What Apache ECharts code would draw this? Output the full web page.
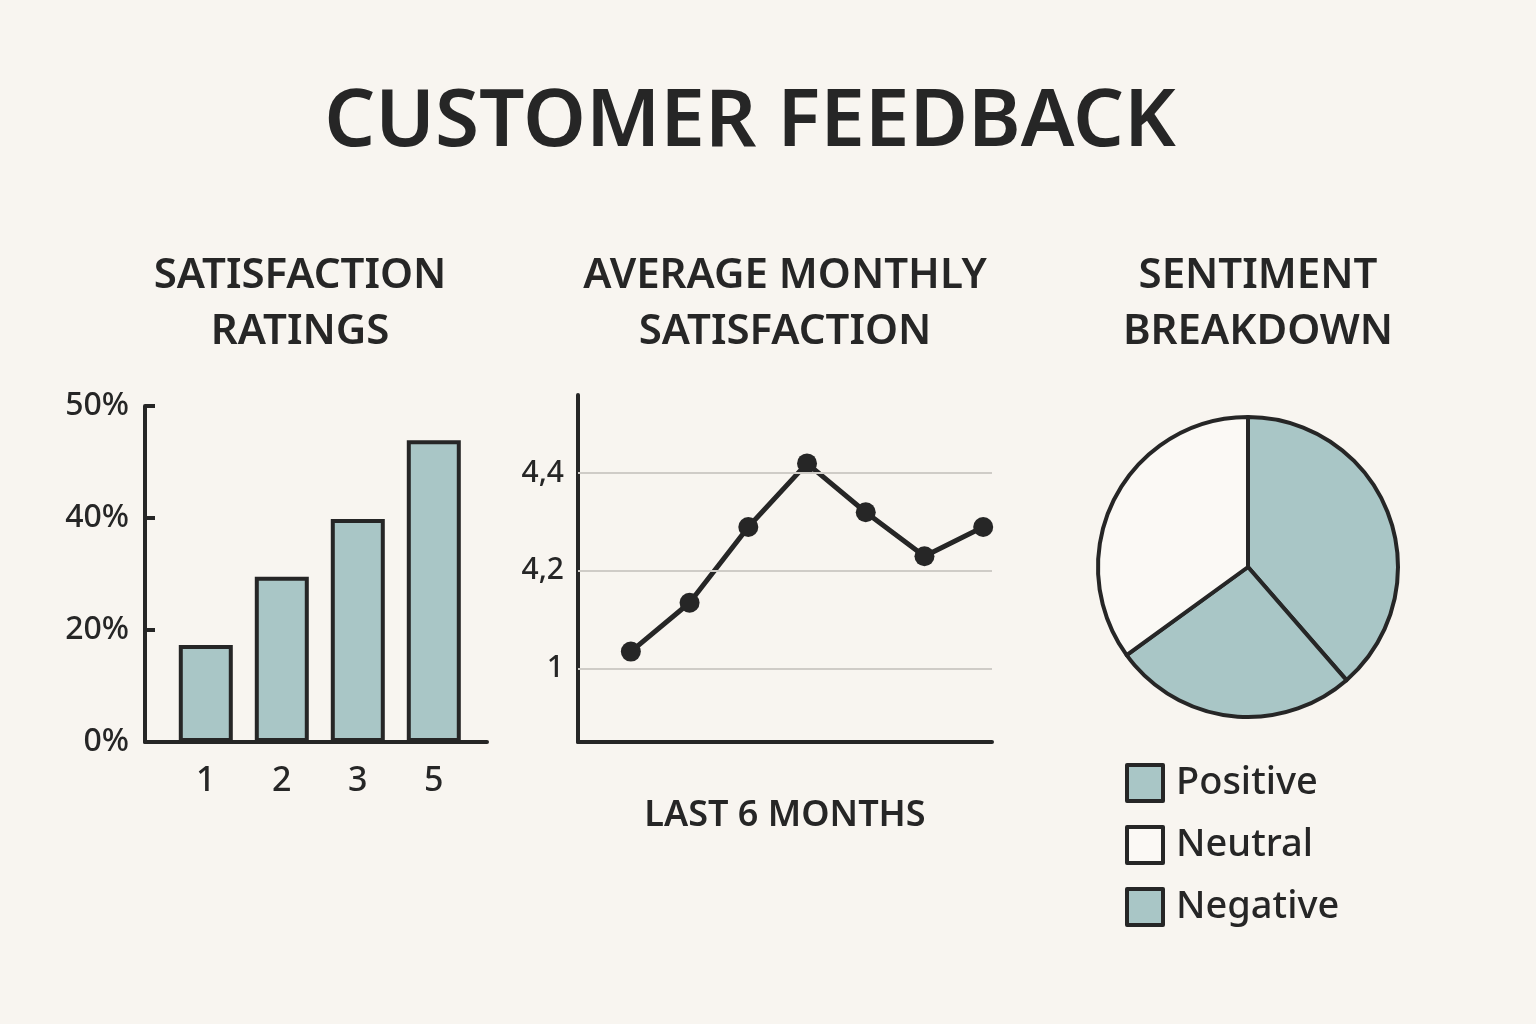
<!DOCTYPE html>
<html><head><meta charset="utf-8">
<script src="https://cdn.jsdelivr.net/npm/echarts@6/dist/echarts.min.js"></script>
<style>html,body{margin:0;background:#f8f5f0}#c{width:1536px;height:1024px}</style>
</head><body><div id="c"></div>
<script>
// bar: satisfaction ratings
const ratingCats = ['1', '2', '3', '5'];
const ratingVals = [17.3, 29.5, 39.8, 53.9];
const ratingTicks = {0: '0%', 20: '20%', 40: '40%', 60: '50%'};
// line: monthly average
const monthIdx = [0, 1, 2, 3, 4, 5, 6];
const monthVals = [4.035, 4.135, 4.29, 4.42, 4.32, 4.23, 4.29];
const lineGrid = [4, 4.2, 4.4];
const lineTicks = {'4': '1', '4.2': '4,2', '4.4': '4,4'};
// pie
const sentNames = ['Positive', 'Negative', 'Neutral'];
const sentVals = [38.6, 26.4, 35];
const legendOrder = ['Positive', 'Neutral', 'Negative'];

const ink = '#262626', teal = '#a9c6c6', paper = '#f8f5f0';
const font = 'Noto Sans';
const chart = echarts.init(document.getElementById('c'));
const titleStyle = {fontFamily: font, fontSize: 42, fontWeight: 600, color: ink, align: 'center', lineHeight: 56};
chart.setOption({
  backgroundColor: paper,
  animation: false,
  title: [
    {text: 'CUSTOMER FEEDBACK', left: 745, top: 78, textAlign: 'center',
     textStyle: {fontFamily: font, fontSize: 80, fontWeight: 600, color: ink}},
    {text: 'SATISFACTION\nRATINGS', left: 295, top: 243, textAlign: 'center', textStyle: titleStyle},
    {text: 'AVERAGE MONTHLY\nSATISFACTION', left: 780, top: 243, textAlign: 'center', textStyle: titleStyle},
    {text: 'SENTIMENT\nBREAKDOWN', left: 1253, top: 243, textAlign: 'center', textStyle: titleStyle},
    {text: 'LAST 6 MONTHS', left: 780, top: 793, textAlign: 'center',
     textStyle: {fontFamily: font, fontSize: 36, fontWeight: 600, color: ink}}
  ],
  grid: [
    {left: 145, top: 406, width: 342, height: 336},
    {left: 578, top: 395, width: 414, height: 347}
  ],
  xAxis: [
    {gridIndex: 0, type: 'value', min: -0.8, max: 3.7,
     axisLine: {show: true, lineStyle: {color: ink, width: 4}}, axisTick: {show: false},
     splitLine: {show: false},
     axisLabel: {customValues: [0, 1, 2, 3], fontFamily: font, fontSize: 34, fontWeight: 500, color: ink, margin: 22,
       formatter: v => ratingCats[Math.round(v)]}},
    {gridIndex: 1, type: 'value', min: -0.9, max: 6.15,
     axisLine: {show: true, onZero: false, lineStyle: {color: ink, width: 4}}, axisTick: {show: false},
     axisLabel: {show: false}, splitLine: {show: false}}
  ],
  yAxis: [
    {gridIndex: 0, type: 'value', min: 0, max: 60, interval: 20,
     axisLine: {show: true, onZero: false, lineStyle: {color: ink, width: 4}},
     axisTick: {show: true, length: 10, inside: true, lineStyle: {color: ink, width: 4}},
     splitLine: {show: false},
     axisLabel: {fontFamily: font, fontSize: 32, fontWeight: 500, color: ink, margin: 16, formatter: v => ratingTicks[v] || ''}},
    {gridIndex: 1, type: 'value', min: 3.85, max: 4.56,
     axisLine: {show: true, onZero: false, lineStyle: {color: ink, width: 4}},
     axisTick: {show: false},
     splitLine: {show: false},
     axisLabel: {customValues: lineGrid, fontFamily: font, fontSize: 30, fontWeight: 500, color: ink, margin: 14,
       formatter: v => lineTicks[String(Math.round(v * 10) / 10)] || ''}}
  ],
  series: [
    {type: 'bar', xAxisIndex: 0, yAxisIndex: 0, data: ratingVals.map((v, i) => [i, v]), barWidth: 54,
     itemStyle: {color: teal, borderColor: ink, borderWidth: 4}},
    {type: 'line', xAxisIndex: 1, yAxisIndex: 1, data: monthIdx.map((m, i) => [m, monthVals[i]]),
     symbol: 'circle', symbolSize: 20, lineStyle: {color: ink, width: 5},
     itemStyle: {color: ink}, z: 3,
     markLine: {silent: true, symbol: 'none', label: {show: false},
       lineStyle: {color: '#cfccc7', width: 2, type: 'solid'},
       data: lineGrid.map(v => ({yAxis: v}))}},
    {type: 'pie', center: [1248, 567], radius: 150, startAngle: 90, clockwise: true,
     label: {show: false}, labelLine: {show: false},
     data: sentNames.map((n, i) => ({name: n, value: sentVals[i],
       itemStyle: {color: n === 'Neutral' ? '#fbf9f5' : teal}})),
     itemStyle: {borderColor: ink, borderWidth: 4}}
  ],
  legend: {orient: 'vertical', left: 1120, top: 758, itemGap: 22, itemWidth: 36, itemHeight: 36,
    data: legendOrder, icon: 'rect',
    itemStyle: {borderColor: ink, borderWidth: 4},
    textStyle: {fontFamily: font, fontSize: 38, fontWeight: 500, color: ink, padding: [0, 0, 0, 8]}}
});
</script></body></html>
